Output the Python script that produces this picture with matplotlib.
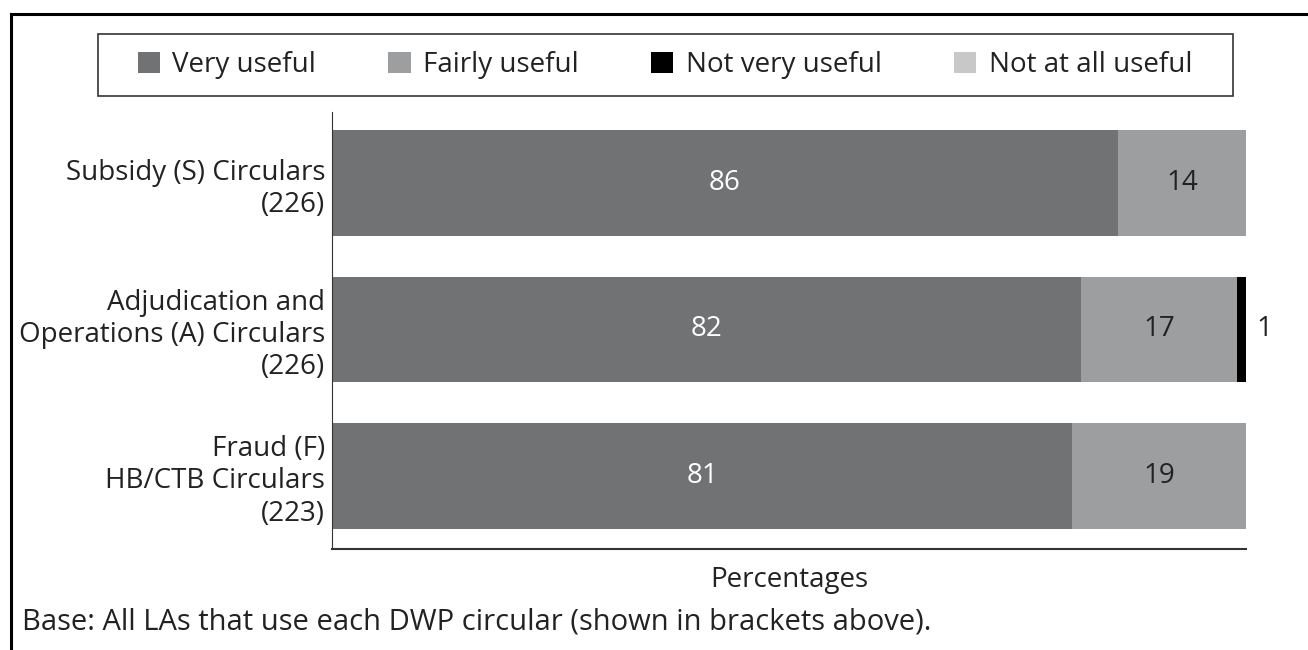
import matplotlib
matplotlib.use("Agg")
import matplotlib.pyplot as plt
from matplotlib.patches import Rectangle
from matplotlib.lines import Line2D

# data
categories = ["Subsidy (S) Circulars\n(226)",
              "Adjudication and\nOperations (A) Circulars\n(226)",
              "Fraud (F)\nHB/CTB Circulars\n(223)"]
series_names = ["Very useful", "Fairly useful", "Not very useful", "Not at all useful"]
very_useful = [86, 82, 81]
fairly_useful = [14, 17, 19]
not_very_useful = [0, 1, 0]
not_at_all_useful = [0, 0, 0]

colors = ["#717274", "#9d9ea0", "#000000", "#c8c8c8"]
plt.rcParams["font.family"] = ["Open Sans", "DejaVu Sans"]
FS = 20

fig = plt.figure(figsize=(13.08, 6.5), dpi=100)
W, H = 1308, 650

def fx(px):
    return px / W

def fy(py):
    return 1 - py / H

# outer frame: top and left lines only
fig.add_artist(Line2D([fx(11), 1.0], [fy(14), fy(14)], color="black", lw=2.2, transform=fig.transFigure))
fig.add_artist(Line2D([fx(11), fx(11)], [fy(14), 0.0], color="black", lw=2.2, transform=fig.transFigure))

ax = fig.add_axes([fx(332), fy(549), fx(1246) - fx(332), fy(112) - fy(549)])

series = [very_useful, fairly_useful, not_very_useful, not_at_all_useful]
ypos = list(range(len(categories)))
left = [0] * len(categories)
for name, vals, col in zip(series_names, series, colors):
    ax.barh(ypos, vals, left=left, height=0.72, color=col, label=name)
    left = [l + v for l, v in zip(left, vals)]

# value labels
for i in ypos:
    ax.text(very_useful[i] / 2, i, str(very_useful[i]), ha="center", va="center",
            color="white", fontsize=FS)
    ax.text(very_useful[i] + fairly_useful[i] / 2, i, str(fairly_useful[i]),
            ha="center", va="center", color="#222222", fontsize=FS)
    if not_very_useful[i] > 0:
        ax.text(102, i, str(not_very_useful[i]), ha="center", va="center",
                color="#222222", fontsize=FS, clip_on=False)

ax.set_xlim(0, 100)
ax.set_ylim(2.5, -0.485)
ax.set_yticks(ypos)
ax.set_yticklabels(categories, fontsize=FS, color="#222222", linespacing=1.2)
ax.tick_params(axis="y", length=0, pad=5)
ax.set_xticks([])
for s in ["top", "right"]:
    ax.spines[s].set_visible(False)
ax.spines["left"].set_color("#333333")
ax.spines["bottom"].set_color("#333333")
ax.spines["bottom"].set_linewidth(1.5)

fig.text(fx(789), fy(580), "Percentages", ha="center", va="center", fontsize=FS, color="#222222")
fig.text(fx(22), fy(622), "Base: All LAs that use each DWP circular (shown in brackets above).",
         ha="left", va="center", fontsize=21, color="#222222")

# legend box
fig.add_artist(Rectangle((fx(98), fy(96)), fx(1233) - fx(98), fy(34) - fy(96),
                         transform=fig.transFigure, fill=False, edgecolor="#333333", lw=1.2))
handles, labels = ax.get_legend_handles_labels()
fig.legend(handles, labels, loc="center", bbox_to_anchor=(fx(665), fy(65)), ncol=4,
           frameon=False, fontsize=FS, handlelength=0.8, handleheight=0.8,
           handletextpad=0.45, columnspacing=2.6, labelcolor="#222222")

fig.savefig("out.png", dpi=100)
